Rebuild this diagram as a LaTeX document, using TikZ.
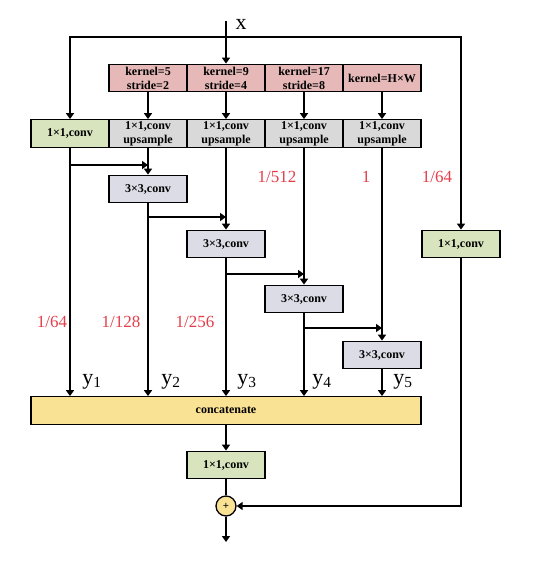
\documentclass[tikz,border=0pt]{standalone}
\usepackage{fontspec}
\setmainfont{Liberation Serif}
\usetikzlibrary{arrows.meta}
\definecolor{poolred}{RGB}{230,185,184}
\definecolor{upgrey}{RGB}{217,217,217}
\definecolor{convgreen}{RGB}{215,228,189}
\definecolor{convblue}{RGB}{220,220,230}
\definecolor{catyellow}{RGB}{250,226,148}
\definecolor{ratiored}{RGB}{228,62,74}
\tikzset{
  box/.style={draw,line width=1.3pt,minimum width=78pt,minimum height=27.5pt,
    inner sep=0pt,align=center,font=\fontsize{12}{14}\selectfont\bfseries},
  arr/.style={line width=1.8pt,-{Triangle[width=8pt,length=6pt]}},
  ratio/.style={text=ratiored,font=\fontsize{17}{17}\selectfont},
  ylab/.style={font=\fontsize{22}{22}\selectfont}
}
\begin{document}
\begin{tikzpicture}[x=1pt,y=-1pt]
  \useasboundingbox (0,0) rectangle (533,573);
  % pooling row
  \node[box,fill=poolred] (k5) at (148,78) {kernel=5\\stride=2};
  \node[box,fill=poolred] (k9) at (226,78) {kernel=9\\stride=4};
  \node[box,fill=poolred] (k17) at (304,78) {kernel=17\\stride=8};
  \node[box,fill=poolred] (khw) at (382,78) {kernel=H×W};
  % 1x1 conv row
  \node[box,fill=convgreen] (c1) at (70,133.5) {1×1,conv};
  \node[box,fill=upgrey] (u5) at (148,133.5) {1×1,conv\\upsample};
  \node[box,fill=upgrey] (u9) at (226,133.5) {1×1,conv\\upsample};
  \node[box,fill=upgrey] (u17) at (304,133.5) {1×1,conv\\upsample};
  \node[box,fill=upgrey] (uhw) at (382,133.5) {1×1,conv\\upsample};
  % 3x3 conv cascade
  \node[box,fill=convblue] (d2) at (148,189) {3×3,conv};
  \node[box,fill=convblue] (d3) at (226,244) {3×3,conv};
  \node[box,fill=convblue] (d4) at (304,299) {3×3,conv};
  \node[box,fill=convblue] (d5) at (382,355) {3×3,conv};
  \node[box,fill=convgreen] (cr) at (461,244) {1×1,conv};
  \node[box,fill=catyellow,minimum width=390pt] (cat) at (226,410.5) {concatenate};
  \node[box,fill=convgreen] (cout) at (226,465) {1×1,conv};
  \node[draw,circle,line width=1.3pt,fill=catyellow,minimum size=20pt,inner sep=0pt,
    font=\fontsize{11}{11}\selectfont\bfseries] (plus) at (226,506) {+};
  \coordinate (xin) at (226,21);
  \coordinate (top) at (226,37);
  \coordinate (out) at (226,542);
  \node[ylab] (xl) at (241,24) {x};
  % input and shortcut
  \draw[arr] (xin) -- (k9.north);
  \draw[arr] (top) -| (c1.north);
  \draw[arr] (top) -| (cr.north);
  \draw[arr] (k5.south) -- (u5.north);
  \draw[arr] (k9.south) -- (u9.north);
  \draw[arr] (k17.south) -- (u17.north);
  \draw[arr] (khw.south) -- (uhw.north);
  \draw[arr] (u5.south) -- (d2.north);
  \draw[arr] (u9.south) -- (d3.north);
  \draw[arr] (u17.south) -- (d4.north);
  \draw[arr] (uhw.south) -- (d5.north);
  \draw[arr] (c1.south |- 0,165) -- (u5.south |- 0,165);
  \draw[arr] (d2.south |- 0,217) -- (u9.south |- 0,217);
  \draw[arr] (d3.south |- 0,274) -- (u17.south |- 0,274);
  \draw[arr] (d4.south |- 0,328) -- (uhw.south |- 0,328);
  \draw[arr] (c1.south) -- (c1.south |- cat.north);
  \draw[arr] (d2.south) -- (d2.south |- cat.north);
  \draw[arr] (d3.south) -- (d3.south |- cat.north);
  \draw[arr] (d4.south) -- (d4.south |- cat.north);
  \draw[arr] (d5.south) -- (d5.south |- cat.north);
  \draw[arr] (cat.south) -- (cout.north);
  \draw[line width=1.8pt] (cout.south) -- (plus.north);
  \draw[arr] (cr.south) |- (plus.east);
  \draw[arr] (plus.south) -- (out);
  % ratios
  \node[ratio] (r1) at (277,177) {1/512};
  \node[ratio] (r2) at (366,177) {1};
  \node[ratio] (r3) at (437,177) {1/64};
  \node[ratio] (r4) at (52,322) {1/64};
  \node[ratio] (r5) at (121,322) {1/128};
  \node[ratio] (r6) at (195,322) {1/256};
  % outputs
  \node[ylab] (y1) at (92,382) {y\textsubscript{1}};
  \node[ylab] (y2) at (171,382) {y\textsubscript{2}};
  \node[ylab] (y3) at (247,382) {y\textsubscript{3}};
  \node[ylab] (y4) at (322,382) {y\textsubscript{4}};
  \node[ylab] (y5) at (403,382) {y\textsubscript{5}};
\end{tikzpicture}
\end{document}
